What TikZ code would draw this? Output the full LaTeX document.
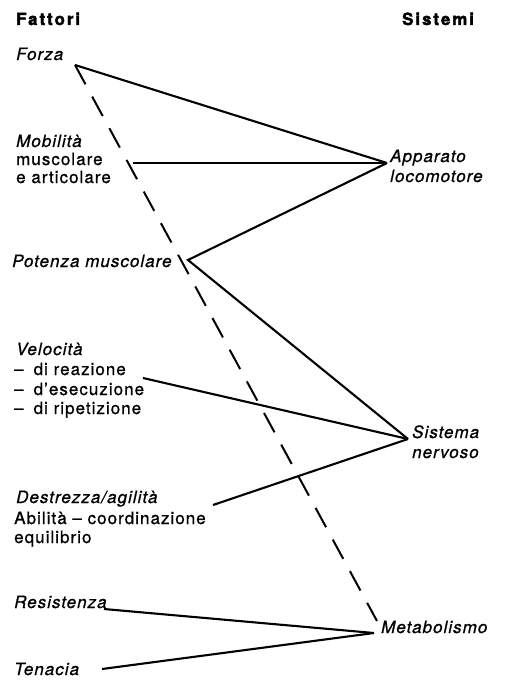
\documentclass[tikz,border=0pt]{standalone}
\usepackage{fontspec}
\setmainfont[LetterSpace=6, FakeBold=0.8]{TeX Gyre Heros}
\newfontfamily\hdrfont[LetterSpace=12, FakeBold=2.5]{TeX Gyre Heros Bold}
\begin{document}
\begin{tikzpicture}[x=1pt,y=-1pt,
  lbl/.style={anchor=base west, inner sep=0pt, font=\fontsize{17}{19}\selectfont},
  ilbl/.style={anchor=base west, inner sep=0pt, font=\fontsize{17}{19}\selectfont\itshape},
  hdr/.style={anchor=base west, inner sep=0pt, font=\hdrfont\fontsize{16.8}{19}\selectfont},
  link/.style={line width=2.1pt},
  dlink/.style={line width=2pt, dash pattern=on 22pt off 14pt}]
\useasboundingbox (0,0) rectangle (507,695);
% headers
\node[hdr] (hf) at (16,25) {Fattori};
\node[hdr] (hs) at (402,25) {Sistemi};
% left labels
\node[ilbl] (forza) at (16,60) {Forza};
\node[ilbl] (mob1) at (16,147) {Mobilità};
\node[lbl] (mob2) at (16,165) {muscolare};
\node[lbl] (mob3) at (16,183) {e articolare};
\node[ilbl] (pot) at (12,267) {Potenza muscolare};
\node[ilbl] (vel1) at (16,355) {Velocità};
\node[lbl] (vel2) at (14,375) {–\hspace{10pt}di reazione};
\node[lbl] (vel3) at (14,395) {–\hspace{10pt}d’esecuzione};
\node[lbl] (vel4) at (14,414) {–\hspace{10pt}di ripetizione};
\node[ilbl] (des1) at (16,503) {Destrezza/agilità};
\node[lbl] (des2) at (14,524) {Abilità – coordinazione};
\node[lbl] (des3) at (14,543) {equilibrio};
\node[ilbl] (res) at (14,608) {Resistenza};
\node[ilbl] (ten) at (14,675) {Tenacia};
% right labels
\node[ilbl] (app1) at (390,162) {Apparato};
\node[ilbl] (app2) at (390,182) {locomotore};
\node[ilbl] (sis1) at (412,438) {Sistema};
\node[ilbl] (sis2) at (412,458) {nervoso};
\node[ilbl] (met) at (381,633) {Metabolismo};
% junction points
\coordinate (F) at (75,65);
\coordinate (A) at (387,163);
\coordinate (Mo) at (133,163);
\coordinate (P) at (188,260);
\coordinate (S) at (408,439);
\coordinate (V) at (143,378);
\coordinate (D) at (213,505);
\coordinate (M) at (374,633);
\coordinate (R) at (104,609);
\coordinate (T) at (102,669);
\coordinate (Me) at (377,621);
% connectors
\draw[link] (F) -- (A);
\draw[link] (Mo) -- (A);
\draw[link] (A) -- (P) -- (S);
\draw[link] (V) -- (S);
\draw[link] (D) -- (S);
\draw[link] (R) -- (M);
\draw[link] (T) -- (M);
\draw[dlink] (F) -- (Me);
\end{tikzpicture}
\end{document}
